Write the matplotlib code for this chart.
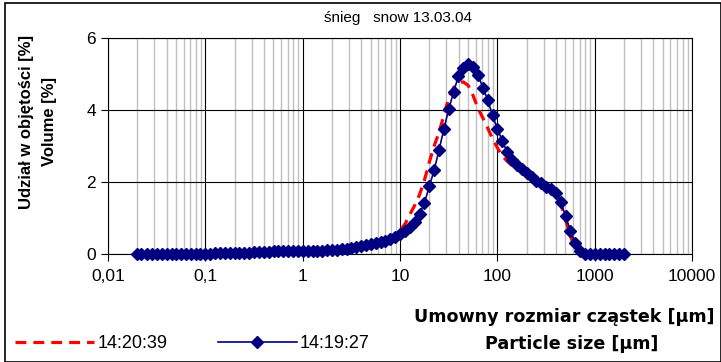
import numpy as np
import matplotlib
matplotlib.use("Agg")
import matplotlib.pyplot as plt
from matplotlib.patches import Rectangle
from matplotlib.ticker import FixedLocator, NullFormatter

plt.rcParams['font.family'] = ['Liberation Sans', 'DejaVu Sans']

# particle size bands [um]
sizes = [0.020, 0.022, 0.025, 0.028, 0.032, 0.036, 0.040, 0.045, 0.050, 0.056,
         0.063, 0.071, 0.080, 0.089, 0.100, 0.112, 0.126, 0.142, 0.159, 0.178,
         0.200, 0.224, 0.252, 0.283, 0.317, 0.356, 0.399, 0.448, 0.502, 0.564,
         0.632, 0.710, 0.796, 0.893, 1.002, 1.125, 1.262, 1.416, 1.589, 1.783,
         2.000, 2.244, 2.518, 2.825, 3.170, 3.557, 3.991, 4.477, 5.024, 5.637,
         6.325, 7.096, 7.962, 8.934, 10.024, 11.247, 12.619, 14.159, 15.887, 17.825,
         20.000, 22.440, 25.179, 28.251, 31.698, 35.566, 39.905, 44.774, 50.238, 56.368,
         63.246, 70.963, 79.621, 89.337, 100.237, 112.468, 126.191, 141.589, 158.866, 178.250,
         200.000, 224.404, 251.785, 282.508, 316.979, 355.656, 399.052, 447.744, 502.377, 563.677,
         632.456, 709.627, 796.214, 893.367, 1002.374, 1124.683, 1261.915, 1415.892, 1588.656, 1782.502,
         2000.000]

# series 14:19:27 (blue, diamonds)
vol_141927 = [0.00, 0.00, 0.00, 0.00, 0.00, 0.00, 0.00, 0.00, 0.00, 0.00,
              0.00, 0.00, 0.01, 0.01, 0.01, 0.01, 0.02, 0.02, 0.02, 0.03,
              0.03, 0.03, 0.04, 0.04, 0.05, 0.05, 0.06, 0.06, 0.07, 0.07,
              0.08, 0.08, 0.08, 0.08, 0.08, 0.08, 0.08, 0.09, 0.09, 0.10,
              0.11, 0.12, 0.13, 0.15, 0.17, 0.19, 0.21, 0.24, 0.27, 0.30,
              0.33, 0.37, 0.42, 0.48, 0.55, 0.64, 0.75, 0.88, 1.12, 1.42,
              1.88, 2.33, 2.89, 3.47, 4.03, 4.50, 4.95, 5.18, 5.28, 5.20,
              4.98, 4.62, 4.28, 3.85, 3.47, 3.15, 2.82, 2.62, 2.47, 2.35,
              2.24, 2.14, 2.04, 1.96, 1.87, 1.80, 1.70, 1.45, 1.05, 0.65,
              0.30, 0.07, 0.00, 0.00, 0.00, 0.00, 0.00, 0.00, 0.00, 0.00,
              0.00]

# series 14:20:39 (red, dashed)
vol_142039 = [0.00, 0.00, 0.00, 0.00, 0.00, 0.00, 0.00, 0.00, 0.00, 0.00,
              0.00, 0.00, 0.01, 0.01, 0.01, 0.01, 0.02, 0.02, 0.02, 0.03,
              0.03, 0.03, 0.04, 0.04, 0.05, 0.05, 0.06, 0.06, 0.07, 0.07,
              0.08, 0.08, 0.08, 0.08, 0.08, 0.08, 0.09, 0.09, 0.10, 0.11,
              0.12, 0.13, 0.14, 0.16, 0.18, 0.20, 0.22, 0.25, 0.28, 0.32,
              0.36, 0.41, 0.47, 0.55, 0.66, 0.83, 1.10, 1.35, 1.65, 2.05,
              2.55, 3.00, 3.38, 3.85, 4.35, 4.62, 4.75, 4.78, 4.68, 4.40,
              4.05, 3.78, 3.50, 3.20, 2.95, 2.72, 2.58, 2.45, 2.35, 2.27,
              2.20, 2.12, 2.05, 1.97, 1.90, 1.84, 1.72, 1.40, 0.95, 0.50,
              0.12, 0.00, 0.00, 0.00, 0.00, 0.00, 0.00, 0.00, 0.00, 0.00,
              0.00]

x_ticks = [0.01, 0.1, 1, 10, 100, 1000, 10000]
x_ticklabels = ['0,01', '0,1', '1', '10', '100', '1000', '10000']
y_ticks = [0, 2, 4, 6]

title = 'śnieg   snow 13.03.04'
ylabel = 'Udział w objętości [%]\nVolume [%]'
xlabel1 = 'Umowny rozmiar cząstek [μm]'
xlabel2 = 'Particle size [µm]'
labels = ['14:20:39', '14:19:27']

W, H = 721, 362
fig = plt.figure(figsize=(W / 100, H / 100), dpi=100)
ax = fig.add_axes([108 / W, 1 - 254 / H, (692 - 108) / W, (254 - 38) / H])

ax.set_xscale('log')
ax.set_xlim(0.01, 10000)
ax.set_ylim(0, 6)

minor = [m * 10.0 ** e for e in range(-2, 4) for m in range(2, 10)]
ax.xaxis.set_minor_locator(FixedLocator(minor))
ax.xaxis.set_minor_formatter(NullFormatter())
ax.set_xticks(x_ticks)
ax.set_xticklabels(x_ticklabels)
ax.set_yticks(y_ticks)

ax.grid(which='minor', axis='x', color='#c0c0c0', lw=1.0)
ax.grid(which='major', axis='both', color='black', lw=0.8)
ax.set_axisbelow(True)
ax.tick_params(axis='x', which='minor', length=0)
ax.tick_params(axis='both', which='major', direction='out', length=5, width=0.8,
               labelsize=12.5, colors='black')
ax.tick_params(axis='x', pad=6)
for s in ax.spines.values():
    s.set_color('black')
    s.set_linewidth(0.8)

ax.plot(sizes, vol_142039, color='#ff0000', lw=2.3, dashes=(3.4, 2.2),
        label=labels[0], zorder=3, clip_on=False)
ax.plot(sizes, vol_141927, color='#000080', lw=1.2, marker='D', ms=6.5,
        label=labels[1], zorder=4, clip_on=False)

fig.text(398 / W, 1 - 18 / H, title, ha='center', va='center', fontsize=11)
fig.text(38 / W, 1 - 122 / H, ylabel, ha='center', va='center', rotation=90,
         fontsize=12, fontweight='bold', linespacing=1.6)
fig.text(564 / W, 1 - 317 / H, xlabel1, ha='center', va='center',
         fontsize=12.6, fontweight='bold', family='DejaVu Sans')
fig.text(572 / W, 1 - 344 / H, xlabel2, ha='center', va='center',
         fontsize=12.6, fontweight='bold', family='DejaVu Sans')

h, l = ax.get_legend_handles_labels()
fig.legend(h, l, loc='center left', bbox_to_anchor=(15 / W, 1 - 344 / H), ncol=2,
           frameon=False, fontsize=13, handlelength=4.4, handletextpad=0.15,
           columnspacing=2.8, numpoints=1, borderaxespad=0, borderpad=0)

fig.add_artist(Rectangle((5 / W, 0), 1 - 5 / W - 0.5 / W, 1 - 3 / H, transform=fig.transFigure,
                         fill=False, edgecolor='black', lw=1.2))

fig.savefig('out.png', dpi=100)
